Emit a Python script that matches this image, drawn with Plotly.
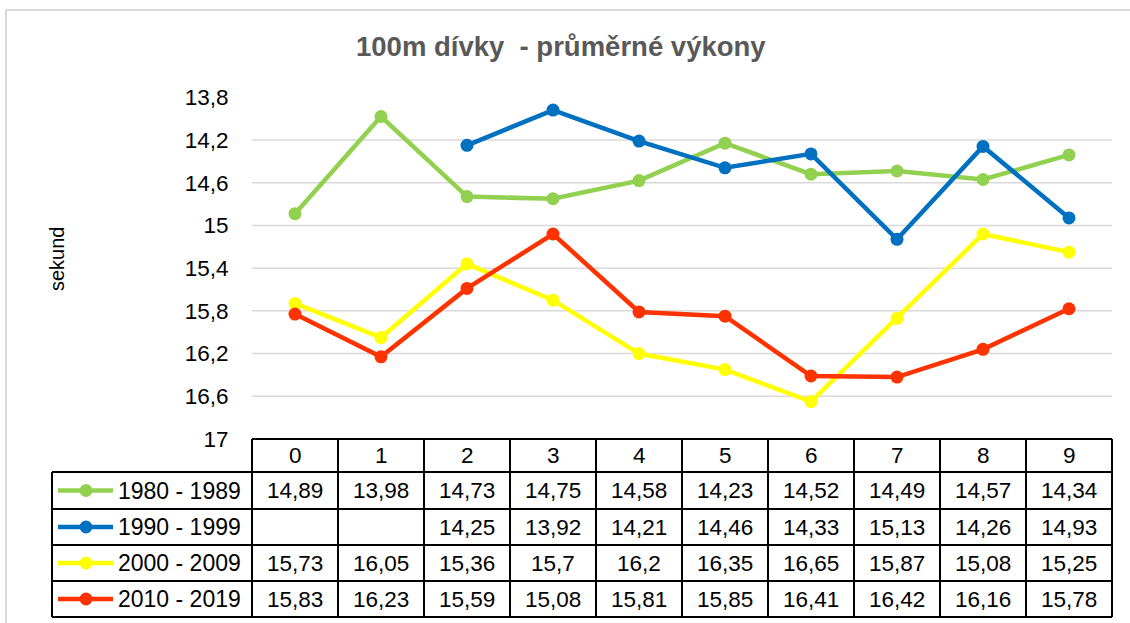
import plotly.graph_objects as go

# ---- data ----
categories = [0, 1, 2, 3, 4, 5, 6, 7, 8, 9]
series_names = ["1980 - 1989", "1990 - 1999", "2000 - 2009", "2010 - 2019"]
s1980 = [14.89, 13.98, 14.73, 14.75, 14.58, 14.23, 14.52, 14.49, 14.57, 14.34]
s1990 = [None, None, 14.25, 13.92, 14.21, 14.46, 14.33, 15.13, 14.26, 14.93]
s2000 = [15.73, 16.05, 15.36, 15.7, 16.2, 16.35, 16.65, 15.87, 15.08, 15.25]
s2010 = [15.83, 16.23, 15.59, 15.08, 15.81, 15.85, 16.41, 16.42, 16.16, 15.78]
series_values = [s1980, s1990, s2000, s2010]
colors = ["#92D050", "#0070C0", "#FFFF00", "#FF3300"]
y_ticks = [13.8, 14.2, 14.6, 15.0, 15.4, 15.8, 16.2, 16.6, 17.0]
y_tick_labels = ["13,8", "14,2", "14,6", "15", "15,4", "15,8", "16,2", "16,6", "17"]
grid_values = [14.2, 14.6, 15.0, 15.4, 15.8, 16.2, 16.6]
title = "100m dívky  - průměrné výkony"
y_title = "sekund"

# ---- geometry (pixels) ----
W, H = 1130, 623
PX_L, PX_R = 252, 1112
PX_T, PX_B = 97.3, 439
COL_W = (PX_R - PX_L) / 10
TBL_L = 52
ROW_LINES = [472, 509, 545, 581, 617]
FONT = "Liberation Sans, Arial, sans-serif"
TXT = 22.5


def px(x):
    return x / W


def py(y):
    return 1 - y / H


def fmt(v):
    return "" if v is None else f"{v:g}".replace(".", ",")


fig = go.Figure()

for name, vals, col in zip(series_names, series_values, colors):
    fig.add_trace(go.Scatter(
        x=categories, y=vals, name=name, mode="lines+markers",
        line=dict(color=col, width=4.5),
        marker=dict(color=col, size=13),
        connectgaps=False, showlegend=False,
    ))

shapes = []
for g in grid_values:
    shapes.append(dict(type="line", xref="paper", yref="y",
                       x0=px(PX_L), x1=px(PX_R), y0=g, y1=g,
                       line=dict(color="#D9D9D9", width=1.5), layer="below"))
shapes.append(dict(type="rect", xref="paper", yref="paper",
                   x0=px(6), x1=px(1140), y0=py(10), y1=py(640),
                   line=dict(color="#D9D9D9", width=2), layer="below"))

black = dict(color="black", width=2)
shapes.append(dict(type="line", xref="paper", yref="paper",
                   x0=px(PX_L), x1=px(PX_R), y0=py(PX_B), y1=py(PX_B), line=black))
for yl in ROW_LINES:
    shapes.append(dict(type="line", xref="paper", yref="paper",
                       x0=px(TBL_L), x1=px(PX_R), y0=py(yl), y1=py(yl), line=black))
shapes.append(dict(type="line", xref="paper", yref="paper",
                   x0=px(TBL_L), x1=px(TBL_L), y0=py(ROW_LINES[0]), y1=py(ROW_LINES[-1]), line=black))
for i in range(len(categories) + 1):
    xl = PX_L + i * COL_W
    shapes.append(dict(type="line", xref="paper", yref="paper",
                       x0=px(xl), x1=px(xl), y0=py(PX_B), y1=py(ROW_LINES[-1]), line=black))

annotations = []
for c in categories:
    annotations.append(dict(x=c, xref="x", y=py((PX_B + ROW_LINES[0]) / 2), yref="paper",
                            text=str(c), showarrow=False, xanchor="center", yanchor="middle",
                            font=dict(family=FONT, size=TXT, color="black")))
for r, (name, vals, col) in enumerate(zip(series_names, series_values, colors)):
    yc = (ROW_LINES[r] + ROW_LINES[r + 1]) / 2
    for c, v in zip(categories, vals):
        annotations.append(dict(x=c, xref="x", y=py(yc), yref="paper",
                                text=fmt(v), showarrow=False, xanchor="center", yanchor="middle",
                                font=dict(family=FONT, size=TXT, color="black")))
    shapes.append(dict(type="line", xref="paper", yref="paper",
                       x0=px(58), x1=px(113), y0=py(yc), y1=py(yc),
                       line=dict(color=col, width=4.5)))
    shapes.append(dict(type="circle", xref="paper", yref="paper",
                       x0=px(86 - 6.5), x1=px(86 + 6.5), y0=py(yc - 6.5), y1=py(yc + 6.5),
                       fillcolor=col, line=dict(color=col, width=0)))
    annotations.append(dict(x=px(116), xref="paper", y=py(yc), yref="paper",
                            text=name, showarrow=False, xanchor="left", yanchor="middle",
                            font=dict(family=FONT, size=23, color="black")))

annotations.append(dict(x=px(561), xref="paper", y=py(47), yref="paper",
                        text="<b>" + title + "</b>", showarrow=False,
                        xanchor="center", yanchor="middle",
                        font=dict(family=FONT, size=27.5, color="#595959")))
annotations.append(dict(x=px(57), xref="paper", y=py(259), yref="paper",
                        text=y_title, textangle=-90, showarrow=False,
                        xanchor="center", yanchor="middle",
                        font=dict(family=FONT, size=20, color="black")))

fig.update_layout(
    template="none",
    width=W, height=H,
    margin=dict(l=0, r=0, t=0, b=0, pad=0),
    paper_bgcolor="white", plot_bgcolor="white",
    xaxis=dict(domain=[px(PX_L), px(PX_R)], range=[-0.5, 9.5], automargin=False,
               showticklabels=False, showgrid=False, zeroline=False, showline=False),
    yaxis=dict(domain=[py(PX_B), py(PX_T)], range=[17, 13.8], automargin=False,
               tickvals=y_ticks, ticktext=y_tick_labels,
               ticks="outside", ticklen=18, tickcolor="rgba(0,0,0,0)",
               tickfont=dict(family=FONT, size=TXT, color="black"),
               showgrid=False, zeroline=False, showline=False),
    shapes=shapes, annotations=annotations,
)

fig.write_html("out.html", config={"displayModeBar": False},
               post_script="document.body.style.margin='0';")
